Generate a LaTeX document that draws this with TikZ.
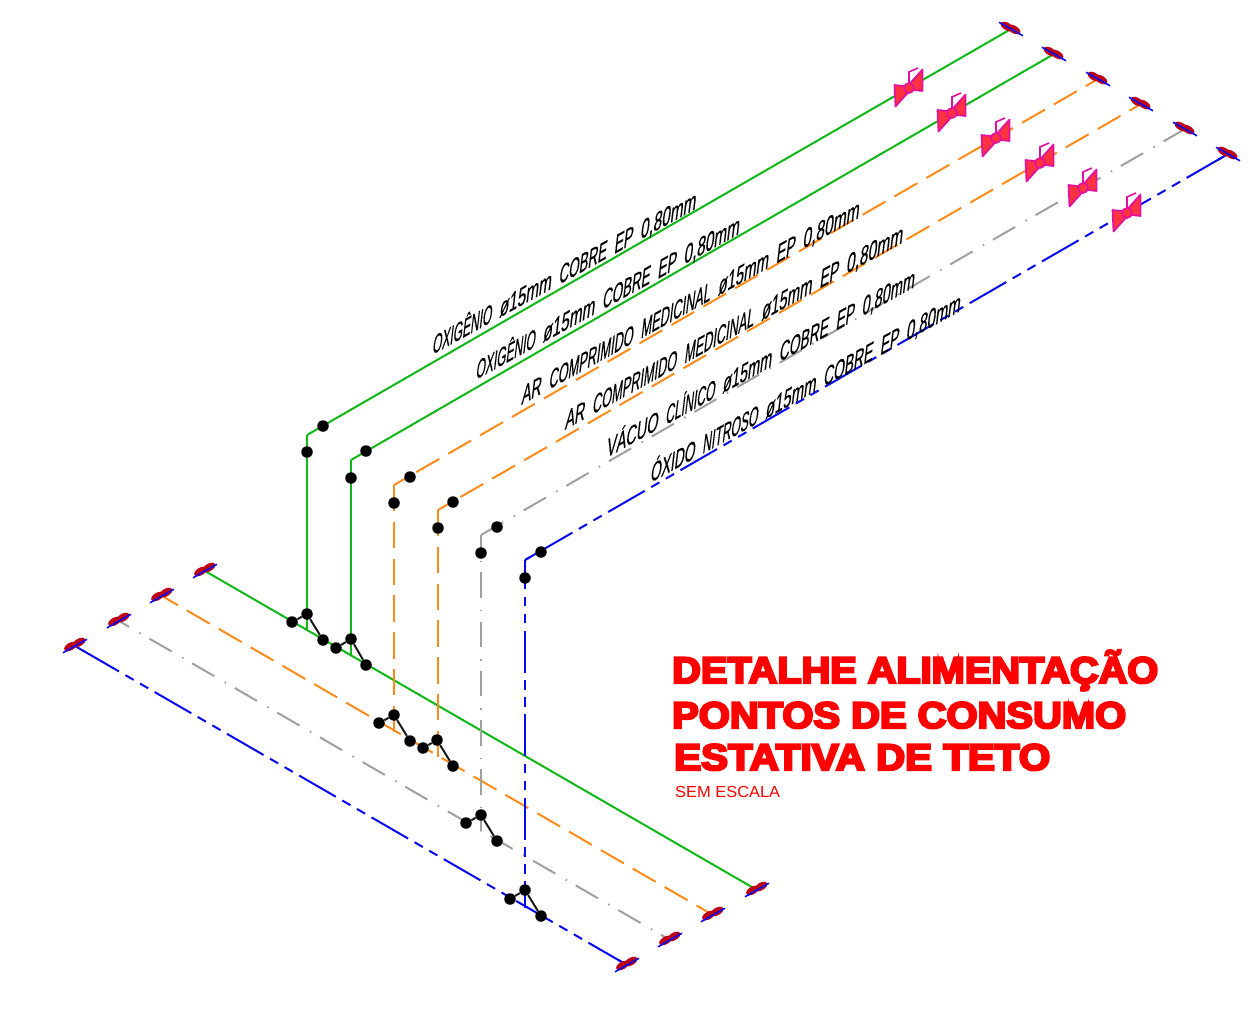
\documentclass[tikz,border=0pt]{standalone}
\usepackage{fontspec}
\usepackage{graphicx}
\usetikzlibrary{calc}
\setmainfont{Liberation Sans}
\newfontfamily\ttlfont[FakeBold=6]{Liberation Sans Bold}
\newfontfamily\lblfont[FakeBold=.4]{Liberation Sans}
\newcommand{\wsq}[2]{\scalebox{#1}[1]{#2}}
\newcommand{\sepw}{\ \ }
\definecolor{gc}{RGB}{16,184,24}
\definecolor{oc}{RGB}{255,140,26}
\definecolor{yc}{RGB}{160,160,160}
\definecolor{bc}{RGB}{10,10,240}
\definecolor{mg}{RGB}{224,16,160}
\definecolor{vr}{RGB}{255,50,64}
\definecolor{dr}{RGB}{190,0,20}
\tikzset{
  x=1pt,y=-1pt,
  pipe/.style={line width=2pt},
  gline/.style={pipe,draw=gc},
  oline/.style={pipe,draw=oc,dash pattern=on 26.4pt off 10.4pt},
  yline/.style={pipe,draw=yc,dash pattern=on 25.6pt off 12pt on 1.5pt off 10.15pt},
  bline/.style={pipe,draw=bc,dash pattern=on 42.3pt off 7.4pt on 9.5pt off 7.4pt on 9.5pt off 7.4pt},
  dot/.style={circle,fill=black,inner sep=0pt,minimum size=11.5pt},
  link/.style={line width=2pt,draw=black!90},
  pipelabel/.style={anchor=base west,inner sep=0pt,rotate=29,xslant=.72,black,font=\lblfont\fontsize{22.5}{22.5}\selectfont},
  ttl/.style={anchor=base west,inner sep=0pt,text=red,font=\ttlfont\fontsize{37}{37}\selectfont},
  valve/.pic={
    \draw[mg,line width=1.6pt] (0,0) -- (0,-16) -- (9,-20);
    \filldraw[draw=mg,fill=vr,line width=1.7pt,line join=round] (-14.5,-3) -- (-13.5,18.5) -- (4,-1) -- cycle;
    \filldraw[draw=mg,fill=vr,line width=1.7pt,line join=round] (13.5,-18.5) -- (13.5,3) -- (-4,1) -- cycle;
    \filldraw[draw=mg,fill=vr,line width=1.6pt] (0,0) circle[radius=5pt];
  },
  capu/.pic={
    \fill[dr] (-4,-2.5) ellipse[x radius=7pt,y radius=3.8pt,rotate=-30];
    \fill[dr] (3,0.5) ellipse[x radius=7pt,y radius=3.8pt,rotate=-30];
    \draw[bc,line width=1.6pt] (-12,-6.8) -- (12,6.8);
  },
  capl/.pic={
    \fill[dr] (-4.5,0.5) ellipse[x radius=7pt,y radius=3.8pt,rotate=30];
    \fill[dr] (4,-3.5) ellipse[x radius=7pt,y radius=3.8pt,rotate=30];
    \draw[bc,line width=1.6pt] (-12,6.8) -- (12,-6.8);
  },
}
\begin{document}
\begin{tikzpicture}
\useasboundingbox (0,0) rectangle (1258,1018);
\fill[white] (0,0) rectangle (1258,1018);
% upper ends, corners, feet
\coordinate (u1) at (1011,29); \coordinate (c1) at (307,435); \coordinate (f1) at (307,630);
\coordinate (u2) at (1054,54); \coordinate (c2) at (351,460); \coordinate (f2) at (351,655);
\coordinate (u3) at (1098,79); \coordinate (c3) at (394,485); \coordinate (f3) at (394,732);
\coordinate (u4) at (1141,104);\coordinate (c4) at (438,510); \coordinate (f4) at (438,758);
\coordinate (u5) at (1185,129);\coordinate (c5) at (481,535); \coordinate (f5) at (481,831);
\coordinate (u6) at (1228,154);\coordinate (c6) at (525,560); \coordinate (f6) at (525,908);
% lower mains
\coordinate (lg) at (205,571); \coordinate (rg) at (757,890);
\coordinate (lo) at (162,596); \coordinate (ro) at (713,915);
\coordinate (ly) at (119,621); \coordinate (ry) at (670,940);
\coordinate (lb) at (75,646);  \coordinate (rb) at (627,965);
% lower lines
\draw[gline] (lg) -- (rg);
\draw[oline,dash phase=8pt] (lo) -- (ro);
\draw[yline,dash phase=14pt] (ly) -- (ry);
\draw[bline,dash phase=75pt] (lb) -- (rb);
\draw[pipe,bc] (lb) -- ($(lb)!10pt!(rb)$);
\draw[pipe,bc] (rb) -- ($(rb)!10pt!(lb)$);
% verticals
\draw[gline] (c1) -- (f1);
\draw[gline] (c2) -- (f2);
\draw[oline] (c3) -- (f3);
\draw[oline] (c4) -- (f4);
\draw[yline,dash phase=12pt] (c5) -- (f5);
\draw[bline,dash phase=13pt] (c6) -- (f6);
% upper lines
\draw[gline] (c1) -- (u1);
\draw[gline] (c2) -- (u2);
\draw[oline,dash phase=11pt] (c3) -- (u3);
\draw[oline,dash phase=11pt] (c4) -- (u4);
\draw[yline] (c5) -- (u5);
\draw[bline,dash phase=71pt] (c6) -- (u6);
\draw[pipe,bc] (c6) -- ($(c6)!14pt!(u6)$);
\draw[pipe,bc] (u6) -- ($(u6)!12pt!(c6)$);
% pipe ends
\foreach \c in {u1,u2,u3,u4,u5,u6} \pic at (\c) {capu};
\foreach \c in {lg,lo,ly,lb,rg,ro,ry,rb} \pic at (\c) {capl};
% valves
\foreach \n/\x/\y in {v1/909/88,v2/952/113,v3/996/138,v4/1040/163,v5/1083/188,v6/1127/213}
  \pic at (\x,\y) {valve};
% dots
\foreach \n/\x/\y in {
  a1/323/426,a2/307/452,b1/366/451,b2/351/478,e1/410/477,e2/394/503,
  h1/453/502,h2/438/528,k1/497/527,k2/481/553,m1/541/552,m2/525/578,
  p1/292/622,p2/307/614,p3/323/640,q1/336/648,q2/351/639,q3/366/665,
  r1/379/723,r2/394/715,r3/410/741,s1/423/748,s2/437/740,s3/453/766,
  t1/466/823,t2/481/815,t3/497/841,w1/510/899,w2/525/890,w3/541/916}
  \node[dot] (\n) at (\x,\y) {};
\draw[link] (p1) -- (p2) -- (p3);
\draw[link] (q1) -- (q2) -- (q3);
\draw[link] (r1) -- (r2) -- (r3);
\draw[link] (s1) -- (s2) -- (s3);
\draw[link] (t1) -- (t2) -- (t3);
\draw[link] (w1) -- (w2) -- (w3);
% labels
\node[pipelabel] (l1) at (432,355) {\resizebox{301pt}{\height}{\wsq{.86}{OXIGÊNIO}\sepw\wsq{1.1}{ø15mm}\sepw\wsq{.96}{COBRE}\sepw EP\sepw\wsq{1.1}{0,80mm}}};
\node[pipelabel] (l2) at (475.5,380) {\resizebox{301pt}{\height}{\wsq{.86}{OXIGÊNIO}\sepw\wsq{1.1}{ø15mm}\sepw\wsq{.96}{COBRE}\sepw EP\sepw\wsq{1.1}{0,80mm}}};
\node[pipelabel] (l3) at (521,405) {\resizebox{386pt}{\height}{AR\sepw\wsq{.9}{COMPRIMIDO}\sepw\wsq{.9}{MEDICINAL}\sepw\wsq{1.05}{ø15mm}\sepw EP\sepw\wsq{1.1}{0,80mm}}};
\node[pipelabel] (l4) at (564.5,430) {\resizebox{386pt}{\height}{AR\sepw\wsq{.9}{COMPRIMIDO}\sepw\wsq{.9}{MEDICINAL}\sepw\wsq{1.05}{ø15mm}\sepw EP\sepw\wsq{1.1}{0,80mm}}};
\node[pipelabel] (l5) at (606,458) {\resizebox{352pt}{\height}{\wsq{1.05}{VÁCUO}\sepw\wsq{.88}{CLÍNICO}\sepw\wsq{1.05}{ø15mm}\sepw COBRE\sepw EP\sepw\wsq{1.05}{0,80mm}}};
\node[pipelabel] (l6) at (650,483) {\resizebox{354pt}{\height}{ÓXIDO\sepw\wsq{.88}{NITROSO}\sepw\wsq{1.08}{ø15mm}\sepw COBRE\sepw EP\sepw\wsq{1.08}{0,80mm}}};
% title
\node[ttl] (t1l) at (672,683) {\resizebox{486pt}{\height}{DETALHE ALIMENTAÇÃO}};
\node[ttl] (t2l) at (672,728) {\resizebox{454pt}{\height}{PONTOS DE CONSUMO}};
\node[ttl] (t3l) at (674,770) {\resizebox{376pt}{\height}{ESTATIVA DE TETO}};
\node[anchor=base west,inner sep=0pt,text=red,font=\fontsize{16}{16}\selectfont] (t4l) at (675,797) {\resizebox{105pt}{\height}{SEM ESCALA}};
\end{tikzpicture}
\end{document}
